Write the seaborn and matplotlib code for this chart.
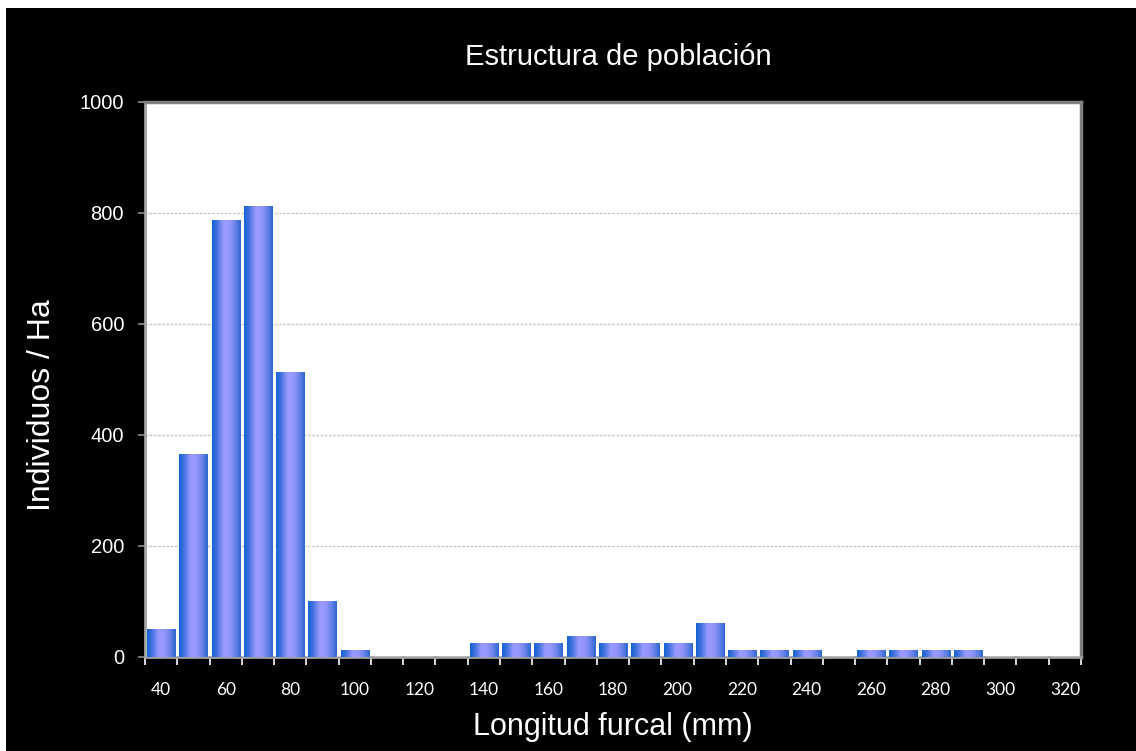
import numpy as np
import pandas as pd
import matplotlib
matplotlib.use("Agg")
import matplotlib.pyplot as plt
import seaborn as sns
from matplotlib.colors import LinearSegmentedColormap
from matplotlib.patches import Rectangle

# Data
longitud = [40, 50, 60, 70, 80, 90, 100, 110, 120, 130, 140, 150, 160, 170, 180,
            190, 200, 210, 220, 230, 240, 250, 260, 270, 280, 290, 300, 310, 320]
individuos = [50, 365, 788, 813, 514, 100, 12, 0, 0, 0, 25, 25, 25, 37, 25,
              25, 25, 62, 12, 12, 12, 0, 12, 12, 12, 12, 0, 0, 0]
yticks = [0, 200, 400, 600, 800, 1000]

df = pd.DataFrame({"longitud": [str(v) for v in longitud], "individuos": individuos})

sns.set_theme(style="white")
plt.rcParams["font.family"] = ["Liberation Sans", "DejaVu Sans"]

fig = plt.figure(figsize=(11.36, 7.51), dpi=100, facecolor="black")
ax = fig.add_axes([0.1276, 0.1252, 0.824, 0.739])
ax.set_facecolor("white")

# white strip at top and left of the picture
fig.patches.append(Rectangle((0, 1 - 8 / 751), 1, 8 / 751, transform=fig.transFigure,
                             facecolor="white", edgecolor="none", zorder=-1))
fig.patches.append(Rectangle((0, 0), 6 / 1136, 1, transform=fig.transFigure,
                             facecolor="white", edgecolor="none", zorder=-1))

sns.barplot(data=df, x="longitud", y="individuos", order=df["longitud"],
            color="#6f86ee", width=0.87, saturation=1, ax=ax, zorder=3)

# horizontal gradient fill on each bar
grad = LinearSegmentedColormap.from_list(
    "bar", ["#1362d2", "#4a76e2", "#9a9aff", "#9696fd", "#6a84ea", "#2a66d0"])
g = np.linspace(0, 1, 256).reshape(1, -1)
for p in ax.patches:
    x0, w = p.get_x(), p.get_width()
    h = p.get_height()
    if h <= 0:
        continue
    im = ax.imshow(g, cmap=grad, aspect="auto", extent=(x0, x0 + w, 0, h),
                   zorder=4, interpolation="bicubic")
    im.set_clip_path(p)

ax.set_xlim(-0.5, len(longitud) - 0.5)
ax.set_ylim(0, 1000)
ax.set_yticks(yticks)
ax.set_yticklabels([str(v) for v in yticks], color="white", fontsize=14.5)

ax.set_xticks(np.arange(len(longitud)))
ax.set_xticklabels([str(v) if i % 2 == 0 else "" for i, v in enumerate(longitud)],
                   color="white", fontsize=12.5, family=["Lato", "DejaVu Sans"])
ax.set_xticks(np.arange(-0.5, len(longitud)), minor=True)
ax.tick_params(axis="x", which="major", length=0, pad=18)
ax.tick_params(axis="x", which="minor", length=6, width=1.2, color="white", bottom=True)
ax.tick_params(axis="y", which="major", length=5, width=1.2, color="#909090",
               left=True, pad=10)

ax.yaxis.grid(True, color="#c8c8c8", linestyle=(0, (2, 1)), linewidth=1, zorder=0)
ax.set_axisbelow(True)

for side in ["left", "bottom"]:
    ax.spines[side].set_color("#a0a0a0")
    ax.spines[side].set_linewidth(2)
for side in ["top", "right"]:
    ax.spines[side].set_color("#808080")
    ax.spines[side].set_linewidth(2.5)

ax.set_xlabel("Longitud furcal (mm)", color="white", fontsize=22, labelpad=10)
ax.set_ylabel("Individuos / Ha", color="white", fontsize=23)
ax.yaxis.set_label_coords(-0.094, 0.454)
fig.text(0.544, 0.924, "Estructura de población", color="white", fontsize=21,
         ha="center", va="center")

fig.savefig("out.png", dpi=100, facecolor=fig.get_facecolor())
